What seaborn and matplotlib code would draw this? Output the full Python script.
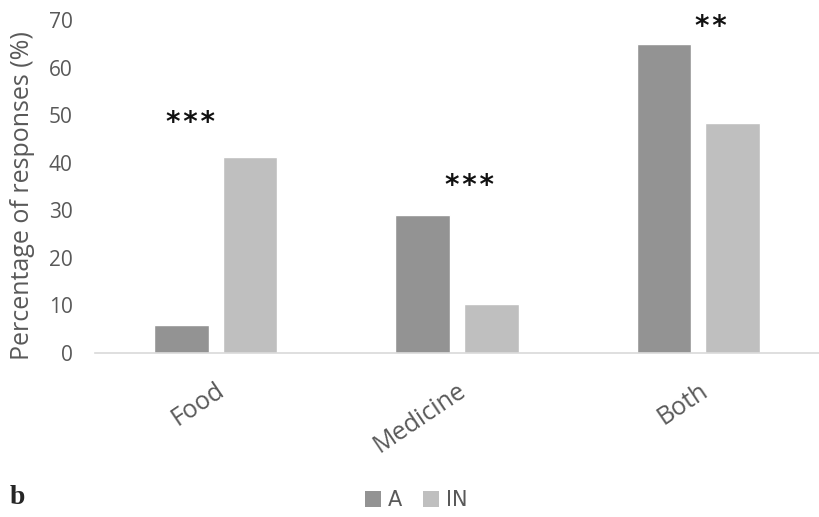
import matplotlib
matplotlib.use("Agg")
import matplotlib.pyplot as plt
import seaborn as sns
import pandas as pd
from matplotlib.patches import Patch

categories = ["Food", "Medicine", "Both"]
groups = ["A", "IN"]
values_A = [5.8, 29.0, 65.0]
values_IN = [41.2, 10.4, 48.4]
stars = ["***", "***", "**"]
star_heights = [48.3, 35.2, 68.6]
star_offsets = [-0.105, 0.05, 0.05]
yticks = [0, 10, 20, 30, 40, 50, 60, 70]

colors = {"A": "#939393", "IN": "#bfbfbf"}
txt = "#595959"

df = pd.DataFrame({
    "category": categories * 2,
    "group": ["A"] * 3 + ["IN"] * 3,
    "value": values_A + values_IN,
})

sns.set_theme(style="white")
plt.rcParams["font.family"] = ["Open Sans", "DejaVu Sans"]

fig = plt.figure(figsize=(8.19, 5.17), dpi=100)
ax = fig.add_axes([95 / 819, 1 - 353 / 517, (819 - 95) / 819, (353 - 20) / 517])

sns.barplot(data=df, x="category", y="value", hue="group", order=categories,
            hue_order=groups, palette=colors, width=0.568, gap=0.204,
            saturation=1, ax=ax, legend=False)

ax.set_xlim(-0.5, 2.5)
ax.set_ylim(0, 70)
ax.set_yticks(yticks)
ax.set_yticklabels([str(t) for t in yticks], color=txt, fontsize=15)
ax.tick_params(axis="y", length=0, pad=16)
ax.tick_params(axis="x", length=0, pad=18)
ax.set_xticks(range(3))
ax.set_xticklabels(categories, rotation=34, ha="right", rotation_mode="anchor",
                   color=txt, fontsize=18)
ax.set_xlabel("")
ax.set_ylabel("Percentage of responses (%)", color=txt, fontsize=18)
ax.yaxis.set_label_coords(-0.083, 0.474)

for s in ["top", "right", "left"]:
    ax.spines[s].set_visible(False)
ax.spines["bottom"].set_color("#d9d9d9")
ax.spines["bottom"].set_linewidth(1.2)

hair = "\u200a"
for i, (s, h, o) in enumerate(zip(stars, star_heights, star_offsets)):
    ax.text(i + o, h, hair.join(s), ha="center", va="center", fontsize=20,
            fontweight="bold", color="#111111", family="DejaVu Sans")

handles = [Patch(facecolor=colors[g], edgecolor="none", label=g) for g in groups]
fig.legend(handles=handles, loc="center", bbox_to_anchor=(416 / 819, 1 - 500 / 517),
           ncol=2, frameon=False, handlelength=0.8, handleheight=0.8,
           handletextpad=0.3, columnspacing=1.0,
           prop={"family": ["Liberation Sans Narrow", "DejaVu Sans"], "size": 15},
           labelcolor=txt)

fig.text(10 / 819, 1 - 498 / 517, "b", fontsize=20, fontweight="bold",
         family=["Liberation Serif", "DejaVu Serif"], va="center", ha="left")

fig.savefig("out.png", dpi=100)
